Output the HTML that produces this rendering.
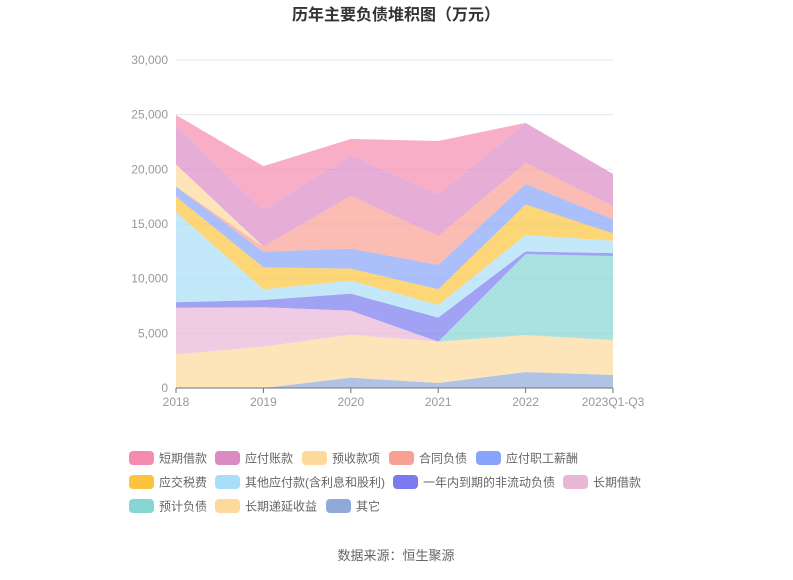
<!DOCTYPE html>
<html><head><meta charset="utf-8"><style>
body{margin:0;background:#fff;font-family:"Liberation Sans","Noto Sans CJK SC",sans-serif}
svg text{font-family:"Liberation Sans","Noto Sans CJK SC",sans-serif}
</style></head><body>
<svg id="c" width="793" height="575">
<text x="396" y="20" text-anchor="middle" font-size="16" font-weight="bold" fill="#333">历年主要负债堆积图（万元）</text>
<text x="396" y="560" text-anchor="middle" font-size="13" fill="#666">数据来源：恒生聚源</text>
<g id="grid"></g><g id="areas"></g><g id="axes"></g><g id="legend"></g>
</svg>
<script>
const categories=["2018","2019","2020","2021","2022","2023Q1-Q3"];
const seriesNames=["其它","长期递延收益","预计负债","长期借款","一年内到期的非流动负债","其他应付款(含利息和股利)","应交税费","应付职工薪酬","合同负债","预收款项","应付账款","短期借款"];
const sOther=[0,0,945,457,1460,1190];
const sDeferred=[3080,3780,3930,3780,3380,3200];
const sProvision=[0,0,0,0,7410,7680];
const sLongLoan=[4270,3600,2200,0,0,0];
const sCurrentNonCur=[490,670,1555,2200,240,270];
const sOtherPay=[8260,975,1190,1160,1490,1130];
const sTax=[1400,2010,1100,1430,2800,670];
const sSalary=[915,1430,1830,2230,1890,1280];
const sContract=[0,460,4820,2650,1920,1220];
const sAdvance=[2040,0,0,0,0,0];
const sPayable=[3510,3350,3720,3810,3660,2930];
const sShortLoan=[1010,4020,1490,4880,0,0];
const yTicks=[0,5000,10000,15000,20000,25000,30000];
const series=[sOther,sDeferred,sProvision,sLongLoan,sCurrentNonCur,sOtherPay,sTax,sSalary,sContract,sAdvance,sPayable,sShortLoan];
const colors=["#8fa9d8","#fdd99b","#86d6d6","#e9b6d8","#7b7af0","#a8def8","#fcc43e","#88a4fa","#f9a094","#fdd99b","#dc8ac4","#f68bb1"];
const legendOrder=[11,10,9,8,7,6,5,4,3,2,1,0];
const legendPos=[[129,458],[215,458],[302,458],[389,458],[476,458],[129,482],[215,482],[393,482],[563,482],[129,506],[215,506],[326,506]];
const X0=176,X1=613,Y0=388,Y1=60,YMAX=30000;
const xs=i=>X0+(X1-X0)*i/(categories.length-1);
const ys=v=>Y0-(Y0-Y1)*v/YMAX;
const NS="http://www.w3.org/2000/svg";
function mk(t,a,p){const e=document.createElementNS(NS,t);for(const k in a)e.setAttribute(k,a[k]);p.appendChild(e);return e;}
const grid=document.getElementById('grid'),areas=document.getElementById('areas'),axes=document.getElementById('axes'),leg=document.getElementById('legend');
yTicks.forEach(t=>{
 if(t>0){const l=mk('line',{x1:X0,x2:X1,y1:ys(t),y2:ys(t),stroke:'#e0e6f1'},grid);
 
 }
 const tx=mk('text',{x:X0-8,y:ys(t)+4,'text-anchor':'end','font-size':12,fill:'#999'},axes);
 tx.textContent=t.toLocaleString('en-US');
 
 
});
let cum=categories.map(()=>0);
series.forEach((s,k)=>{
 const lo=cum.slice();const hi=cum.map((c,i)=>c+s[i]);cum=hi;
 let d='';hi.forEach((v,i)=>d+=(i?'L':'M')+xs(i)+','+ys(v));
 for(let i=lo.length-1;i>=0;i--)d+='L'+xs(i)+','+ys(lo[i]);
 const p=mk('path',{d:d+'Z',fill:colors[k],'fill-opacity':0.7,stroke:'none'},areas);
 
 
});
const ax=mk('line',{x1:X0,x2:X1,y1:Y0,y2:Y0,stroke:'#6e7079'},axes);


categories.forEach((c,i)=>{
 const tk=mk('line',{x1:xs(i),x2:xs(i),y1:Y0,y2:Y0+5,stroke:'#6e7079'},axes);
 
 
 const t=mk('text',{x:xs(i),y:Y0+18,'text-anchor':'middle','font-size':12,fill:'#999'},axes);
 t.textContent=c;
 
 
});
legendOrder.forEach((k,j)=>{
 const [lx,ly]=legendPos[j];
 const g=mk('g',{},leg);
 
 
 mk('rect',{x:lx,y:ly-7,width:25,height:14,rx:4,fill:colors[k]},g);
 const t=mk('text',{x:lx+30,y:ly+4.5,'font-size':12,fill:'#666'},g);
 t.textContent=seriesNames[k];
});
</script>
</body></html>
